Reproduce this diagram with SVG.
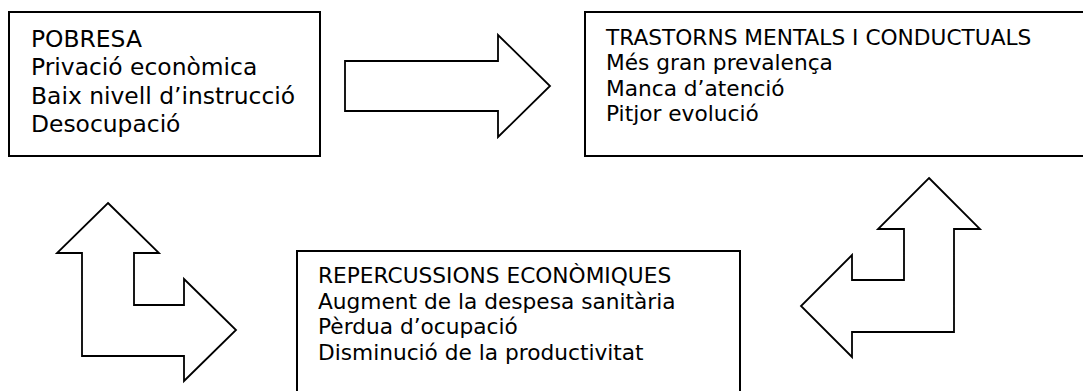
<svg xmlns="http://www.w3.org/2000/svg" width="1083" height="391" viewBox="0 0 1083 391">
<style>
.box{fill:#fff;stroke:#000;stroke-width:2}
.arr{fill:#fff;stroke:#000;stroke-width:1.8;stroke-linejoin:miter}
.t1{font-family:"DejaVu Sans",Verdana,sans-serif;font-size:23.4px;fill:#000}
.t2{font-family:"DejaVu Sans",Verdana,sans-serif;font-size:21.7px;fill:#000}
</style>
<rect width="1083" height="391" fill="#fff"/>
<g id="pobresa">
<rect class="box" x="9" y="12" width="311" height="144"/>
<text class="t1"><tspan x="31" y="47">POBRESA</tspan><tspan x="31" y="75.3">Privació econòmica</tspan><tspan x="31" y="103.6">Baix nivell d’instrucció</tspan><tspan x="31" y="131.9">Desocupació</tspan></text>
</g>
<g id="trastorns">
<rect class="box" x="585" y="12" width="520" height="144"/>
<text class="t2"><tspan x="606" y="44.5">TRASTORNS MENTALS I CONDUCTUALS</tspan><tspan x="606" y="70.1">Més gran prevalença</tspan><tspan x="606" y="95.7">Manca d’atenció</tspan><tspan x="606" y="121.3">Pitjor evolució</tspan></text>
</g>
<g id="repercussions">
<rect class="box" x="297" y="251" width="443" height="160"/>
<text class="t2"><tspan x="318" y="283">REPERCUSSIONS ECONÒMIQUES</tspan><tspan x="318" y="308.5">Augment de la despesa sanitària</tspan><tspan x="318" y="334">Pèrdua d’ocupació</tspan><tspan x="318" y="359.5">Disminució de la productivitat</tspan></text>
</g>
<g id="connectors">
<polygon class="arr" points="345,61 498,61 498,35 550,86 498,137 498,111 345,111"/>
<polygon class="arr" points="108,203 159,253 134,253 134,305 184,305 184,279 236,330 184,381 184,356 82,356 82,253 57,253"/>
<polygon class="arr" points="929,178 980,229 954,229 954,332 852,332 852,357 801,306 852,255 852,280 904,280 904,229 878,229"/>
</g>
</svg>
